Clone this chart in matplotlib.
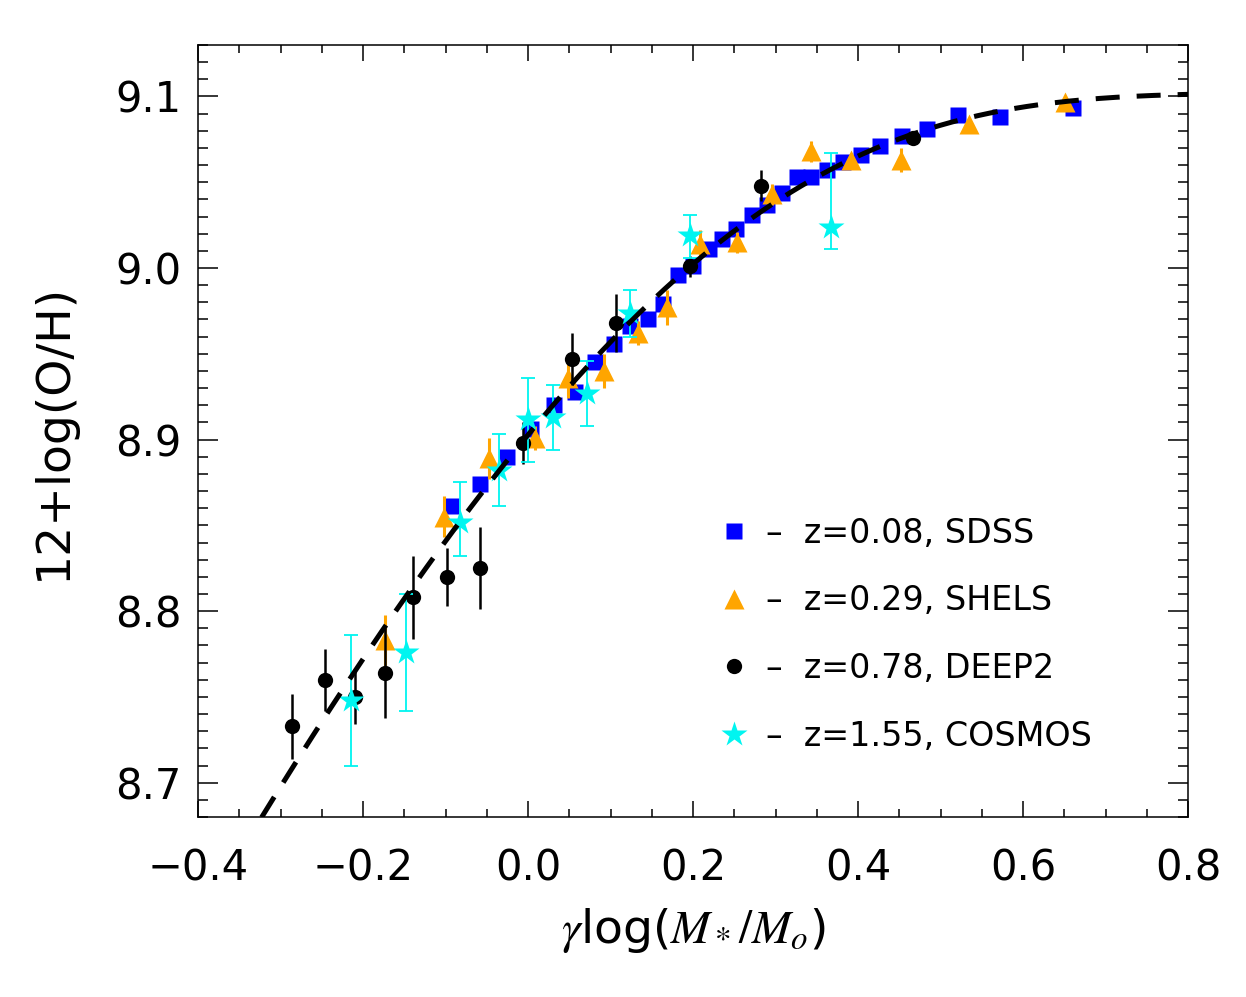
import numpy as np
import matplotlib
matplotlib.use('Agg')
from matplotlib import pyplot as plt
from matplotlib.lines import Line2D

# data
sdss_x = [-0.093, -0.058, -0.026, 0.003, 0.031, 0.057, 0.081, 0.104, 0.123, 0.145,
          0.164, 0.182, 0.200, 0.219, 0.235, 0.252, 0.272, 0.290, 0.308, 0.326,
          0.343, 0.362, 0.382, 0.404, 0.427, 0.453, 0.484, 0.521, 0.572, 0.661]
sdss_y = [8.861, 8.874, 8.890, 8.906, 8.920, 8.928, 8.945, 8.956, 8.966, 8.970,
          8.979, 8.996, 9.001, 9.011, 9.017, 9.023, 9.031, 9.037, 9.044, 9.053,
          9.053, 9.057, 9.062, 9.066, 9.071, 9.077, 9.081, 9.089, 9.088, 9.093]

shels_x = [-0.174, -0.102, -0.047, 0.008, 0.048, 0.092, 0.133, 0.168, 0.208, 0.253,
           0.296, 0.343, 0.392, 0.452, 0.535, 0.651]
shels_y = [8.783, 8.855, 8.889, 8.901, 8.936, 8.940, 8.962, 8.977, 9.014, 9.015,
           9.043, 9.068, 9.063, 9.063, 9.084, 9.097]
shels_err = [0.015, 0.012, 0.012, 0.007, 0.012, 0.010, 0.007, 0.010, 0.008, 0.006,
             0.006, 0.006, 0.004, 0.007, 0.003, 0.003]

deep2_x = [-0.286, -0.246, -0.210, -0.174, -0.139, -0.098, -0.058, -0.006, 0.053,
           0.107, 0.196, 0.282, 0.466]
deep2_y = [8.733, 8.760, 8.750, 8.764, 8.808, 8.820, 8.825, 8.898, 8.947, 8.968,
           9.001, 9.048, 9.076]
deep2_err = [0.019, 0.018, 0.016, 0.026, 0.024, 0.017, 0.024, 0.012, 0.015, 0.017,
             0.006, 0.009, 0.004]

cosmos_x = [-0.215, -0.148, -0.083, -0.035, 0.000, 0.030, 0.072, 0.123, 0.196, 0.367]
cosmos_y = [8.748, 8.776, 8.852, 8.882, 8.912, 8.913, 8.927, 8.974, 9.019, 9.024]
cosmos_lo = [0.038, 0.034, 0.020, 0.021, 0.025, 0.019, 0.019, 0.014, 0.013, 0.013]
cosmos_hi = [0.038, 0.034, 0.023, 0.021, 0.024, 0.019, 0.019, 0.013, 0.012, 0.043]

labels = ['\u2013  z=0.08, SDSS', '\u2013  z=0.29, SHELS',
          '\u2013  z=0.78, DEEP2', '\u2013  z=1.55, COSMOS']

Z0 = 9.102  # asymptotic metallicity of the model curve

plt.rcParams['font.family'] = ['DejaVu Sans']
plt.rcParams['mathtext.fontset'] = 'stix'

fig = plt.figure(figsize=(12.46, 9.97), dpi=100)
ax = fig.add_axes([0.159, 0.1805, 0.7945, 0.7744])

BLUE = '#0000ff'
ORANGE = '#ffa500'
CYAN = '#00f5f0'

ax.plot(sdss_x, sdss_y, 's', color=BLUE, ms=11, mec='none', zorder=3)
ax.errorbar(shels_x, shels_y, yerr=shels_err, fmt='^', color=ORANGE, ms=14,
            mec='none', elinewidth=2.2, capsize=0, zorder=4)
ax.errorbar(deep2_x, deep2_y, yerr=deep2_err, fmt='o', color='black', ms=11,
            mec='none', elinewidth=1.8, capsize=0, zorder=5)
ax.errorbar(cosmos_x, cosmos_y, yerr=[cosmos_lo, cosmos_hi], fmt='*', color=CYAN,
            ms=19, mec='none', elinewidth=1.3, capsize=5, capthick=1.3, zorder=6)

xm = np.linspace(-0.4, 0.8, 400)
ym = Z0 + np.log10(1 - np.exp(-10**xm))
ax.plot(xm, ym, color='black', lw=3.6, ls=(0, (4.8, 3.4)), dash_capstyle='butt', zorder=7)

ax.set_xlim(-0.4, 0.8)
ax.set_ylim(8.68, 9.13)
ax.set_xticks([-0.4, -0.2, 0.0, 0.2, 0.4, 0.6, 0.8])
ax.set_xticks(np.arange(-0.4, 0.801, 0.05), minor=True)
ax.set_yticks([8.7, 8.8, 8.9, 9.0, 9.1])
ax.set_yticks(np.arange(8.68, 9.131, 0.01), minor=True)
fmt = matplotlib.ticker.FuncFormatter(lambda v, p: ('%.1f' % v).replace('-', '\u2212'))
ax.xaxis.set_major_formatter(fmt)
ax.yaxis.set_major_formatter(fmt)

ax.tick_params(axis='both', which='both', direction='in', top=True, right=True,
               width=1.1, labelsize=30)
ax.tick_params(axis='x', which='major', length=11.3, pad=22)
ax.tick_params(axis='x', which='minor', length=5.8)
ax.tick_params(axis='y', which='major', length=14.4, pad=12)
ax.tick_params(axis='y', which='minor', length=7.2)
for s in ax.spines.values():
    s.set_linewidth(1.1)

ax.set_xlabel(r'$\gamma$log($M_*/M_o$)', fontsize=34, labelpad=12)
ax.set_ylabel('12+log(O/H)', fontsize=34, labelpad=28)

handles = [
    Line2D([], [], ls='none', marker='s', color=BLUE, ms=11, mec='none'),
    Line2D([], [], ls='none', marker='^', color=ORANGE, ms=14, mec='none'),
    Line2D([], [], ls='none', marker='o', color='black', ms=11, mec='none'),
    Line2D([], [], ls='none', marker='*', color=CYAN, ms=19, mec='none'),
]
ax.legend(handles, labels, loc='upper left', bbox_to_anchor=(0.527, 0.389),
          frameon=False, fontsize=24, handlelength=0.85, handletextpad=0.55,
          labelspacing=1.04, borderaxespad=0, borderpad=0, numpoints=1)

fig.savefig('out.png', dpi=100)
